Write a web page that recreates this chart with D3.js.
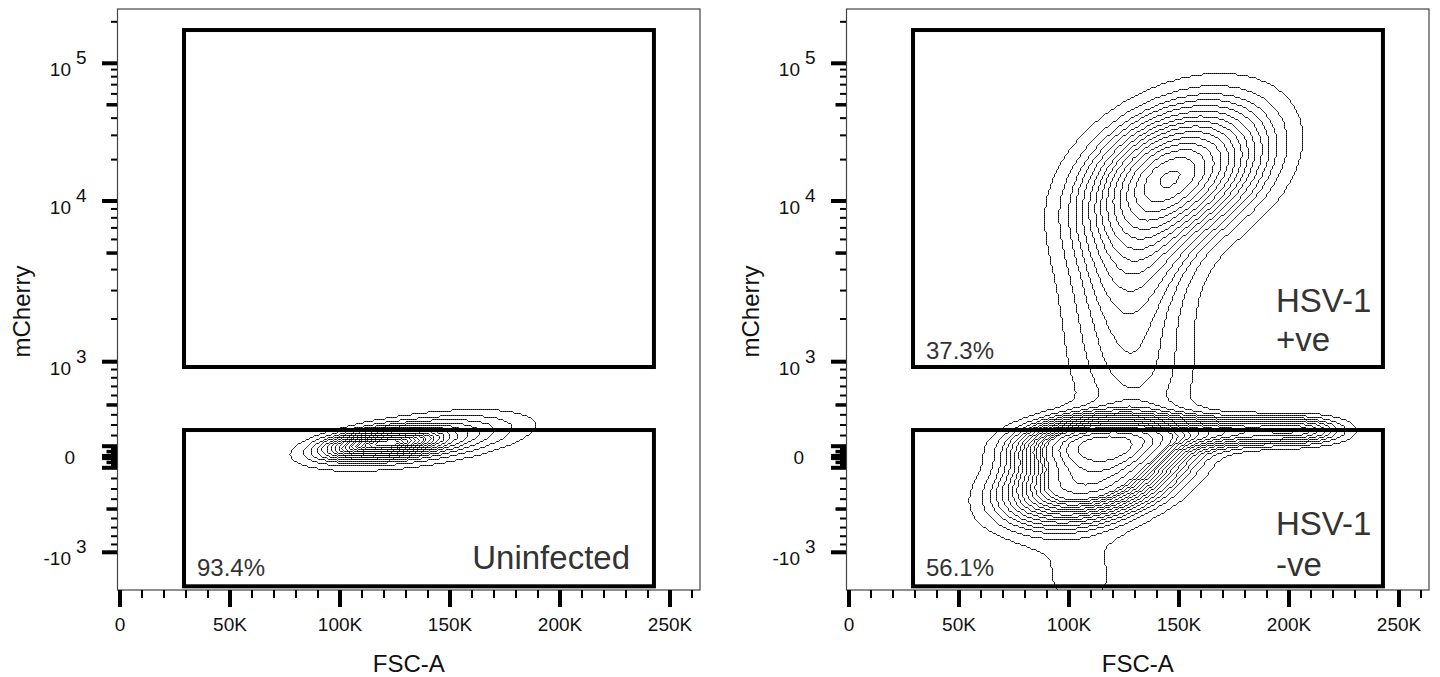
<!DOCTYPE html>
<html>
<head>
<meta charset="utf-8">
<script src="https://cdn.jsdelivr.net/npm/d3@7"></script>
<style>
  html, body { margin: 0; padding: 0; background: #fff; }
  svg { display: block; font-family: "Liberation Sans", Arial, Helvetica, sans-serif; }
</style>
</head>
<body>
<svg id="chart" width="1440" height="677"></svg>
<script>
// ---- axes -------------------------------------------------------------
const fscMajor = [0, 50000, 100000, 150000, 200000, 250000];
const fscLabels = ["0", "50K", "100K", "150K", "200K", "250K"];
const fscMinor = [10000, 20000, 30000, 40000, 60000, 70000, 80000, 90000,
                  110000, 120000, 130000, 140000, 160000, 170000, 180000, 190000,
                  210000, 220000, 230000, 240000, 260000];

const mchLabelled = [-1000, 0, 1000, 10000, 100000];
const mchLabelBase = ["-10", "0", "10", "10", "10"];
const mchLabelExp = ["3", "", "3", "4", "5"];

// ---- gates (data units) ----------------------------------------------
const gateFsc = [29100, 242700];
const posGate = [932, 174300];
const negGate = [-1757, 252];

// ---- panels -----------------------------------------------------------
const negPercent = ["93.4%", "56.1%"];
const posPercent = ["", "37.3%"];

// populations: [FSC-A centre, mCherry centre, FSC sd, mCherry sd (decades), correlation, weight]
const uninfectedPops = [
  [120500, 130, 13600, 0.0545, 0.40, 0.58],
  [135000, 160, 26500, 0.109, 0.50, 0.42]
];
const infectedPops = [
  [149000, 16250, 25500, 0.320, 0.35, 0.26],
  [132300,  5220, 17300, 0.363, 0.20, 0.05],
  [125500,  3240, 19100, 0.436, 0.00, 0.045],
  [130000,   834, 19100, 0.327, 0.00, 0.035],
  [114100,   130, 20500, 0.109, 0.10, 0.12],
  [109500,  -195, 22700, 0.189, 0.35, 0.20],
  [164000,   233, 27300, 0.073, 0.10, 0.035],
  [205000,   252, 13600, 0.065, 0.00, 0.01],
  [105000, -1500, 20500, 0.300, 0.00, 0.02]
];

// equal-probability contour levels (fraction of events enclosed)
const contourLevels = [0.05, 0.10, 0.15, 0.20, 0.25, 0.30, 0.35, 0.40, 0.45, 0.50,
                       0.55, 0.60, 0.65, 0.70, 0.75, 0.80, 0.85, 0.90, 0.95];

// ---- layout -----------------------------------------------------------
const plot = { left: 117.5, right: 700, top: 9, bottom: 590 };
const panelOffsets = [0, 729];

const x = d3.scaleLinear().domain([0, 250000]).range([120, 670]);

// biexponential display: asinh transform, calibrated piecewise to the decade ticks
const tf = v => Math.asinh(v / 1000);
const yLin = d3.scaleLinear()
  .domain([-100000, -10000, -1000, 0, 1000, 10000, 100000].map(tf))
  .range([850.7, 713, 552.3, 457, 361.7, 201, 63.3]);
const y = v => yLin(tf(v));
const decadePx = y(10000) - y(100000);
const fscPx = (x(250000) - x(0)) / 250000;

// tick sets for the biexponential axis
const yTicks = [];
[1, 10, 100, 1000, 10000].forEach(dec => {
  for (let k = 1; k <= 9; k++) {
    const v = k * dec;
    const kind = (k === 1) ? "major" : (k === 5 ? "mid" : "minor");
    yTicks.push({ v, kind });
    if (dec <= 100) yTicks.push({ v: -v, kind });
  }
});
yTicks.push({ v: -1000, kind: "major" });
yTicks.push({ v: 0, kind: "major" });
yTicks.push({ v: 100000, kind: "major" });
yTicks.push({ v: 200000, kind: "minor" });

const svg = d3.select("#chart");

// density of a population mixture on a display-space grid
function density(pops) {
  const cell = 2;
  const nx = Math.ceil((plot.right - plot.left) / cell);
  const ny = Math.ceil((plot.bottom - plot.top) / cell);
  const comps = pops.map(([f, m, sf, sd, r, w]) => ({
    cx: x(f), cy: y(m), sx: sf * fscPx, sy: sd * decadePx, r, w
  }));
  const values = new Float64Array(nx * ny);
  for (let j = 0; j < ny; j++) {
    const py = plot.top + (j + 0.5) * cell;
    for (let i = 0; i < nx; i++) {
      const px = plot.left + (i + 0.5) * cell;
      let s = 0;
      for (const c of comps) {
        const dx = (px - c.cx) / c.sx;
        const dy = -(py - c.cy) / c.sy;
        const q = (dx * dx - 2 * c.r * dx * dy + dy * dy) / (1 - c.r * c.r);
        s += c.w / (c.sx * c.sy * Math.sqrt(1 - c.r * c.r)) * Math.exp(-0.5 * q);
      }
      values[j * nx + i] = s;
    }
  }
  return { values, nx, ny, cell };
}

// density levels that enclose the requested fractions of events
function equalProbThresholds(values, levels) {
  const sorted = Float64Array.from(values).sort().reverse();
  const total = d3.sum(sorted);
  const out = [];
  let cum = 0, j = 0;
  for (let i = 0; i < sorted.length && j < levels.length; i++) {
    cum += sorted[i];
    while (j < levels.length && cum >= levels[j] * total) { out.push(sorted[i]); j++; }
  }
  return out;
}

const defs = svg.append("defs");

panelOffsets.forEach((dx, p) => {
  const g = svg.append("g").attr("transform", `translate(${dx},0)`);
  const clipId = "clip" + p;
  defs.append("clipPath").attr("id", clipId)
    .append("rect")
    .attr("x", plot.left + dx).attr("y", plot.top)
    .attr("width", plot.right - plot.left).attr("height", plot.bottom - plot.top);

  // contours
  const pops = p === 0 ? uninfectedPops : infectedPops;
  const dens = density(pops);
  const th = equalProbThresholds(dens.values, contourLevels);
  const contours = d3.contours().size([dens.nx, dens.ny]).smooth(false).thresholds(th)(dens.values);
  const path = d3.geoPath(d3.geoIdentity().scale(dens.cell).translate([plot.left, plot.top + 0.5]));
  svg.append("g").attr("clip-path", `url(#${clipId})`)
    .append("g").attr("transform", `translate(${dx},0)`)
    .selectAll("path").data(contours).join("path")
    .attr("d", path)
    .attr("fill", "none")
    .attr("stroke", "#000")
    .attr("stroke-width", 1);

  // frame
  g.append("rect")
    .attr("x", plot.left).attr("y", plot.top)
    .attr("width", plot.right - plot.left).attr("height", plot.bottom - plot.top)
    .attr("fill", "none").attr("stroke", "#444").attr("stroke-width", 1.2);

  // gates
  [posGate, negGate].forEach(gt => {
    g.append("rect")
      .attr("x", x(gateFsc[0])).attr("y", y(gt[1]))
      .attr("width", x(gateFsc[1]) - x(gateFsc[0]))
      .attr("height", y(gt[0]) - y(gt[1]))
      .attr("fill", "none").attr("stroke", "#000").attr("stroke-width", 4);
  });

  // x axis ticks
  g.selectAll(".xmaj").data(fscMajor).join("line")
    .attr("x1", d => x(d)).attr("x2", d => x(d))
    .attr("y1", plot.bottom).attr("y2", plot.bottom + 17)
    .attr("stroke", "#000").attr("stroke-width", 4);
  g.selectAll(".xmin").data(fscMinor).join("line")
    .attr("x1", d => x(d)).attr("x2", d => x(d))
    .attr("y1", plot.bottom).attr("y2", plot.bottom + 8)
    .attr("stroke", "#000").attr("stroke-width", 2);
  g.selectAll(".xlab").data(fscMajor).join("text")
    .attr("x", d => x(d)).attr("y", 631)
    .attr("text-anchor", "middle").attr("font-size", 19).attr("fill", "#111")
    .text((d, i) => fscLabels[i]);
  g.append("text")
    .attr("x", (plot.left + plot.right) / 2).attr("y", 672)
    .attr("text-anchor", "middle").attr("font-size", 24).attr("fill", "#111")
    .text("FSC-A");

  // y axis ticks
  const len = { major: 15.5, mid: 11, minor: 6.5 };
  const wid = { major: 4, mid: 3.5, minor: 2 };
  g.selectAll(".ytick").data(yTicks).join("line")
    .attr("x1", plot.left - 0.5).attr("x2", d => plot.left - len[d.kind])
    .attr("y1", d => y(d.v)).attr("y2", d => y(d.v))
    .attr("stroke", "#000").attr("stroke-width", d => wid[d.kind]);
  mchLabelled.forEach((v, i) => {
    const t = g.append("text").attr("font-size", 19).attr("fill", "#111");
    if (mchLabelExp[i] === "") {
      t.attr("x", 75).attr("y", y(v) + 6.5).attr("text-anchor", "end").text(mchLabelBase[i]);
    } else {
      t.attr("x", 71).attr("y", y(v) + 13).attr("text-anchor", "end").text(mchLabelBase[i]);
      g.append("text").attr("font-size", 19).attr("fill", "#111")
        .attr("x", 76).attr("y", y(v) + 1).text(mchLabelExp[i]);
    }
  });
  g.append("text")
    .attr("transform", `translate(30,${(plot.top + plot.bottom) / 2 + 12}) rotate(-90)`)
    .attr("text-anchor", "middle").attr("font-size", 24).attr("fill", "#111")
    .text("mCherry");

  // gate annotations
  g.append("text").attr("x", 197).attr("y", y(negGate[0]) - 10)
    .attr("font-size", 24).attr("fill", "#333").text(negPercent[p]);
  if (posPercent[p]) {
    g.append("text").attr("x", 197).attr("y", y(posGate[0]) - 8)
      .attr("font-size", 24).attr("fill", "#333").text(posPercent[p]);
  }
  if (p === 0) {
    g.append("text").attr("x", 630).attr("y", 569).attr("text-anchor", "end")
      .attr("font-size", 33).attr("fill", "#333").text("Uninfected");
  } else {
    [["HSV-1", 312], ["+ve", 351], ["HSV-1", 535], ["-ve", 576]].forEach(([s, yy]) => {
      g.append("text").attr("x", 547).attr("y", yy)
        .attr("font-size", 33).attr("fill", "#333").text(s);
    });
  }
});
</script>
</body>
</html>
